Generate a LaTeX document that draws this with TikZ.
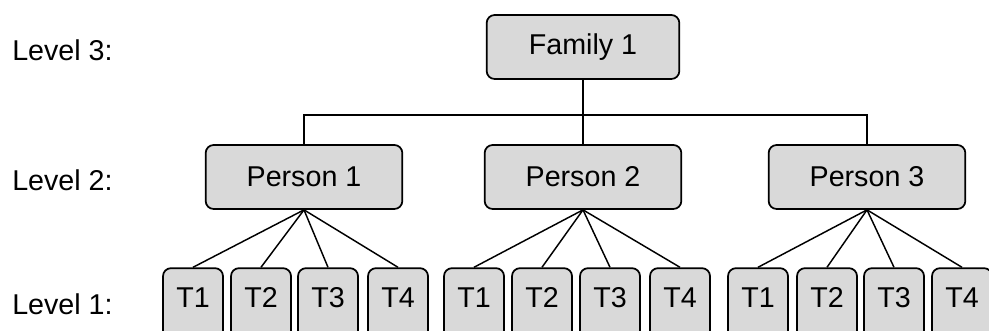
\documentclass[tikz,border=0pt]{standalone}
\usepackage{fontspec}
\setmainfont{Liberation Sans}
\tikzset{
	member/.style={draw=black,line width=1.3pt,fill=boxgray,rounded corners=6pt,font=\fontsize{21.5}{26}\selectfont,inner sep=0pt},
	famnode/.style={member,minimum width=144.5pt,minimum height=48pt},
	personnode/.style={member,minimum width=147.5pt,minimum height=48pt},
	tnode/.style={member,minimum width=45pt,minimum height=56pt,text depth=12pt},
	levellabel/.style={anchor=west,inner sep=0pt,font=\fontsize{21.5}{26}\selectfont},
	link/.style={line width=1.1pt}
}
\definecolor{boxgray}{HTML}{D9D9D9}
\begin{document}
\begin{tikzpicture}[x=0.75pt,y=-0.75pt]
	\useasboundingbox (0,0) rectangle (989,331);
	\clip (0,0) rectangle (989,331);
	\node[levellabel] (lev3) at (12,50) {Level 3:};
	\node[levellabel] (lev2) at (12,180) {Level 2:};
	\node[levellabel] (lev1) at (12,304) {Level 1:};
	\node[famnode] (fam) at (583,47) {Family 1};
	\node[personnode] (p1) at (304,177) {Person 1};
	\node[personnode] (p2) at (583,177) {Person 2};
	\node[personnode] (p3) at (867,177) {Person 3};
	\coordinate (bus) at (583,115);
	\draw[link] (fam) -- (bus);
	\draw[link] (p1.north) |- (bus) -| (p3.north);
	\draw[link] (bus) -- (p2);
	% level 1 under person 1
	\node[tnode] (p1t1) at (193,305.5) {T1};
	\node[tnode] (p1t2) at (261,305.5) {T2};
	\node[tnode] (p1t3) at (328,305.5) {T3};
	\node[tnode] (p1t4) at (398,305.5) {T4};
	% level 1 under person 2
	\node[tnode] (p2t1) at (474,305.5) {T1};
	\node[tnode] (p2t2) at (542,305.5) {T2};
	\node[tnode] (p2t3) at (610,305.5) {T3};
	\node[tnode] (p2t4) at (680,305.5) {T4};
	% level 1 under person 3
	\node[tnode] (p3t1) at (758,305.5) {T1};
	\node[tnode] (p3t2) at (827,305.5) {T2};
	\node[tnode] (p3t3) at (894,305.5) {T3};
	\node[tnode] (p3t4) at (962,305.5) {T4};
	\draw[link] (p1.south) -- (p1t1.north);
	\draw[link] (p1.south) -- (p1t2.north);
	\draw[link] (p1.south) -- (p1t3.north);
	\draw[link] (p1.south) -- (p1t4.north);
	\draw[link] (p2.south) -- (p2t1.north);
	\draw[link] (p2.south) -- (p2t2.north);
	\draw[link] (p2.south) -- (p2t3.north);
	\draw[link] (p2.south) -- (p2t4.north);
	\draw[link] (p3.south) -- (p3t1.north);
	\draw[link] (p3.south) -- (p3t2.north);
	\draw[link] (p3.south) -- (p3t3.north);
	\draw[link] (p3.south) -- (p3t4.north);
\end{tikzpicture}
\end{document}
